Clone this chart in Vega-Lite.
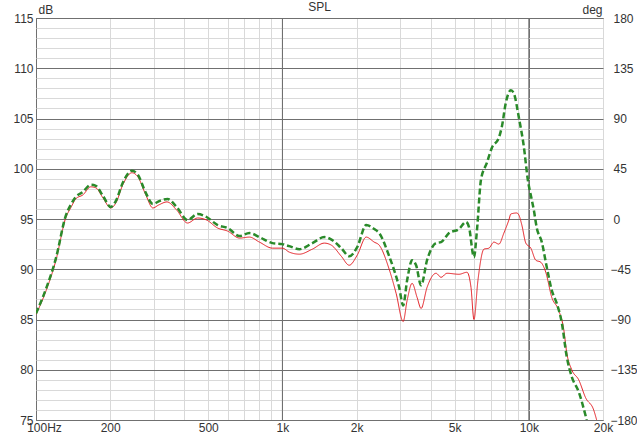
{
  "$schema": "https://vega.github.io/schema/vega-lite/v6.json",
  "width": 567,
  "height": 402,
  "autosize": "none",
  "padding": {"left": 36, "top": 18, "right": 34, "bottom": 15},
  "background": "white",
  "config": {
    "view": {"stroke": "#707070", "strokeWidth": 1},
    "font": "Liberation Sans"
  },
  "title": {"text": "SPL", "fontSize": 12, "fontWeight": "normal", "color": "#333", "anchor": "middle", "offset": -11},
  "datasets": {
    "curves": [
      {"s": "red", "f": 100, "db": 85.5}, {"s": "red", "f": 110, "db": 87.9}, {"s": "red", "f": 120.5, "db": 90.9}, {"s": "red", "f": 132, "db": 95.1}, {"s": "red", "f": 139, "db": 96.2}, {"s": "red", "f": 145, "db": 97.0}, {"s": "red", "f": 155, "db": 97.4}, {"s": "red", "f": 167, "db": 98.2}, {"s": "red", "f": 175, "db": 98.1}, {"s": "red", "f": 187, "db": 97.1}, {"s": "red", "f": 201, "db": 96.1}, {"s": "red", "f": 211, "db": 96.6}, {"s": "red", "f": 225, "db": 98.4}, {"s": "red", "f": 245, "db": 99.6}, {"s": "red", "f": 259, "db": 99.2}, {"s": "red", "f": 279, "db": 97.4}, {"s": "red", "f": 298, "db": 96.1}, {"s": "red", "f": 315, "db": 96.4}, {"s": "red", "f": 340, "db": 96.7}, {"s": "red", "f": 372, "db": 95.9}, {"s": "red", "f": 412, "db": 94.6}, {"s": "red", "f": 453, "db": 95.1}, {"s": "red", "f": 492, "db": 94.9}, {"s": "red", "f": 546, "db": 94.1}, {"s": "red", "f": 599, "db": 93.8}, {"s": "red", "f": 670, "db": 93.1}, {"s": "red", "f": 735, "db": 93.2}, {"s": "red", "f": 807, "db": 92.7}, {"s": "red", "f": 911, "db": 92.1}, {"s": "red", "f": 1000, "db": 92.1}, {"s": "red", "f": 1067, "db": 91.7}, {"s": "red", "f": 1172, "db": 91.5}, {"s": "red", "f": 1323, "db": 92.0}, {"s": "red", "f": 1479, "db": 92.6}, {"s": "red", "f": 1579, "db": 92.4}, {"s": "red", "f": 1733, "db": 91.3}, {"s": "red", "f": 1867, "db": 90.4}, {"s": "red", "f": 2012, "db": 91.4}, {"s": "red", "f": 2188, "db": 93.2}, {"s": "red", "f": 2358, "db": 92.7}, {"s": "red", "f": 2470, "db": 92.4}, {"s": "red", "f": 2712, "db": 90.0}, {"s": "red", "f": 2894, "db": 87.6}, {"s": "red", "f": 3090, "db": 84.8}, {"s": "red", "f": 3207, "db": 86.9}, {"s": "red", "f": 3360, "db": 88.6}, {"s": "red", "f": 3520, "db": 87.2}, {"s": "red", "f": 3654, "db": 86.1}, {"s": "red", "f": 3864, "db": 88.2}, {"s": "red", "f": 4202, "db": 89.6}, {"s": "red", "f": 4403, "db": 89.2}, {"s": "red", "f": 4656, "db": 89.6}, {"s": "red", "f": 5208, "db": 89.5}, {"s": "red", "f": 5611, "db": 89.7}, {"s": "red", "f": 5825, "db": 88.2}, {"s": "red", "f": 5989, "db": 85.0}, {"s": "red", "f": 6216, "db": 88.9}, {"s": "red", "f": 6574, "db": 92.0}, {"s": "red", "f": 6888, "db": 92.1}, {"s": "red", "f": 7216, "db": 92.7}, {"s": "red", "f": 7560, "db": 92.5}, {"s": "red", "f": 7921, "db": 93.6}, {"s": "red", "f": 8299, "db": 94.9}, {"s": "red", "f": 8455, "db": 95.5}, {"s": "red", "f": 8942, "db": 95.6}, {"s": "red", "f": 9110, "db": 95.4}, {"s": "red", "f": 9368, "db": 94.4}, {"s": "red", "f": 9725, "db": 92.6}, {"s": "red", "f": 10188, "db": 92.1}, {"s": "red", "f": 10674, "db": 90.9}, {"s": "red", "f": 11183, "db": 90.7}, {"s": "red", "f": 11717, "db": 89.7}, {"s": "red", "f": 12393, "db": 87.2}, {"s": "red", "f": 13230, "db": 85.9}, {"s": "red", "f": 13860, "db": 84.0}, {"s": "red", "f": 14252, "db": 81.7}, {"s": "red", "f": 14934, "db": 80.0}, {"s": "red", "f": 15937, "db": 79.0}, {"s": "red", "f": 17013, "db": 77.2}, {"s": "red", "f": 18333, "db": 76.0}, {"s": "red", "f": 18851, "db": 75.0},
      {"s": "green", "f": 100, "db": 85.6}, {"s": "green", "f": 110, "db": 88.1}, {"s": "green", "f": 120.5, "db": 91.1}, {"s": "green", "f": 132, "db": 95.3}, {"s": "green", "f": 139, "db": 96.5}, {"s": "green", "f": 145, "db": 97.2}, {"s": "green", "f": 155, "db": 97.7}, {"s": "green", "f": 167, "db": 98.4}, {"s": "green", "f": 175, "db": 98.3}, {"s": "green", "f": 187, "db": 97.3}, {"s": "green", "f": 201, "db": 96.2}, {"s": "green", "f": 211, "db": 96.8}, {"s": "green", "f": 225, "db": 98.6}, {"s": "green", "f": 245, "db": 99.8}, {"s": "green", "f": 259, "db": 99.4}, {"s": "green", "f": 279, "db": 97.6}, {"s": "green", "f": 298, "db": 96.5}, {"s": "green", "f": 318, "db": 96.8}, {"s": "green", "f": 342, "db": 97.0}, {"s": "green", "f": 372, "db": 96.2}, {"s": "green", "f": 412, "db": 94.9}, {"s": "green", "f": 453, "db": 95.5}, {"s": "green", "f": 492, "db": 95.2}, {"s": "green", "f": 546, "db": 94.4}, {"s": "green", "f": 599, "db": 94.1}, {"s": "green", "f": 670, "db": 93.3}, {"s": "green", "f": 735, "db": 93.6}, {"s": "green", "f": 807, "db": 93.2}, {"s": "green", "f": 911, "db": 92.6}, {"s": "green", "f": 1000, "db": 92.5}, {"s": "green", "f": 1067, "db": 92.3}, {"s": "green", "f": 1172, "db": 92.0}, {"s": "green", "f": 1323, "db": 92.6}, {"s": "green", "f": 1479, "db": 93.2}, {"s": "green", "f": 1594, "db": 92.9}, {"s": "green", "f": 1733, "db": 92.1}, {"s": "green", "f": 1867, "db": 91.3}, {"s": "green", "f": 2012, "db": 92.2}, {"s": "green", "f": 2188, "db": 94.4}, {"s": "green", "f": 2358, "db": 94.0}, {"s": "green", "f": 2470, "db": 93.6}, {"s": "green", "f": 2712, "db": 91.3}, {"s": "green", "f": 2841, "db": 89.9}, {"s": "green", "f": 2977, "db": 88.2}, {"s": "green", "f": 3090, "db": 86.4}, {"s": "green", "f": 3207, "db": 88.9}, {"s": "green", "f": 3360, "db": 90.9}, {"s": "green", "f": 3488, "db": 90.4}, {"s": "green", "f": 3654, "db": 88.4}, {"s": "green", "f": 3864, "db": 90.9}, {"s": "green", "f": 4202, "db": 92.6}, {"s": "green", "f": 4403, "db": 92.7}, {"s": "green", "f": 4744, "db": 93.6}, {"s": "green", "f": 5208, "db": 94.0}, {"s": "green", "f": 5560, "db": 94.7}, {"s": "green", "f": 5717, "db": 94.2}, {"s": "green", "f": 5989, "db": 91.2}, {"s": "green", "f": 6160, "db": 93.9}, {"s": "green", "f": 6394, "db": 98.9}, {"s": "green", "f": 6761, "db": 100.6}, {"s": "green", "f": 7083, "db": 102.1}, {"s": "green", "f": 7560, "db": 103.1}, {"s": "green", "f": 7775, "db": 104.2}, {"s": "green", "f": 8070, "db": 106.6}, {"s": "green", "f": 8455, "db": 107.8}, {"s": "green", "f": 8695, "db": 107.5}, {"s": "green", "f": 9110, "db": 105.1}, {"s": "green", "f": 9545, "db": 102.2}, {"s": "green", "f": 9908, "db": 98.9}, {"s": "green", "f": 10283, "db": 96.9}, {"s": "green", "f": 10476, "db": 95.9}, {"s": "green", "f": 10774, "db": 94.1}, {"s": "green", "f": 11288, "db": 92.7}, {"s": "green", "f": 11827, "db": 90.2}, {"s": "green", "f": 12393, "db": 87.9}, {"s": "green", "f": 12985, "db": 86.6}, {"s": "green", "f": 13604, "db": 84.7}, {"s": "green", "f": 14252, "db": 81.3}, {"s": "green", "f": 14934, "db": 79.3}, {"s": "green", "f": 15937, "db": 77.8}, {"s": "green", "f": 17173, "db": 75.0}
    ],
    "decades": [{"f": 1000}, {"f": 10000}],
    "deg": [{"deg": -180}, {"deg": 180}]
  },
  "layer": [
    {
      "layer": [
        {
          "data": {"name": "decades"},
          "mark": {"type": "rule", "color": "#707070", "strokeWidth": 1},
          "encoding": {
            "x": {"field": "f", "type": "quantitative"}
          }
        },
        {
          "data": {"name": "curves"},
          "mark": {"type": "line", "interpolate": "monotone", "clip": true},
          "encoding": {
            "x": {
              "field": "f", "type": "quantitative",
              "scale": {"type": "log", "domain": [100, 20000], "nice": false},
              "axis": {
                "title": null,
                "values": [100, 200, 300, 400, 500, 600, 700, 800, 900, 1000, 2000, 3000, 4000, 5000, 6000, 7000, 8000, 9000, 10000, 20000],
                "labelExpr": "datum.value == 100 ? '100Hz' : datum.value == 200 ? '200' : datum.value == 500 ? '500' : datum.value == 1000 ? '1k' : datum.value == 2000 ? '2k' : datum.value == 5000 ? '5k' : datum.value == 10000 ? '10k' : datum.value == 20000 ? '20k' : ''",
                "labelOffset": {"condition": {"test": "datum.value == 100", "value": 8}, "value": 0},
                "labelOverlap": false, "labelFlush": false, "labelBound": false,
                "labelFontSize": 12, "labelColor": "#333", "labelPadding": 2,
                "ticks": false, "domain": false,
                "grid": true,
                "gridColor": {"condition": {"test": "datum.value == 100 || datum.value == 1000 || datum.value == 10000", "value": "#707070"}, "value": "#d9d9d9"},
                "gridWidth": 1
              }
            },
            "y": {
              "field": "db", "type": "quantitative",
              "scale": {"domain": [75, 115], "nice": false, "zero": false},
              "axis": {
                "title": "dB", "titleAngle": 0, "titleAlign": "left", "titleBaseline": "alphabetic",
                "titleX": 2, "titleY": -5, "titleFontSize": 12, "titleFontWeight": "normal", "titleColor": "#333",
                "values": [75, 76, 77, 78, 79, 80, 81, 82, 83, 84, 85, 86, 87, 88, 89, 90, 91, 92, 93, 94, 95, 96, 97, 98, 99, 100, 101, 102, 103, 104, 105, 106, 107, 108, 109, 110, 111, 112, 113, 114, 115],
                "labelExpr": "datum.value % 5 == 0 ? datum.label : ''",
                "labelOverlap": false, "labelFlush": false, "labelBound": false,
                "labelFontSize": 12, "labelColor": "#333", "labelPadding": 3,
                "ticks": false, "domain": false,
                "grid": true,
                "gridColor": {"condition": {"test": "datum.value % 5 == 0", "value": "#707070"}, "value": "#d9d9d9"},
                "gridWidth": 1
              }
            },
            "color": {"field": "s", "type": "nominal", "scale": {"domain": ["red", "green"], "range": ["#e31e24", "#2a8a2a"]}, "legend": null},
            "strokeWidth": {"field": "s", "type": "nominal", "scale": {"domain": ["red", "green"], "range": [1, 2.5]}, "legend": null},
            "strokeDash": {"field": "s", "type": "nominal", "scale": {"domain": ["red", "green"], "range": [[1, 0], [6, 3]]}, "legend": null}
          }
        }
      ]
    },
    {
      "data": {"name": "deg"},
      "mark": {"type": "point", "opacity": 0},
      "encoding": {
        "y": {
          "field": "deg", "type": "quantitative",
          "scale": {"domain": [-180, 180], "nice": false, "zero": false},
          "axis": {
            "orient": "right",
            "title": "deg", "titleAngle": 0, "titleAlign": "right", "titleBaseline": "alphabetic",
            "titleX": -1, "titleY": -5, "titleFontSize": 12, "titleFontWeight": "normal", "titleColor": "#333",
            "values": [-180, -135, -90, -45, 0, 45, 90, 135, 180],
            "labelOverlap": false, "labelFlush": false, "labelBound": false,
            "labelFontSize": 12, "labelColor": "#333",
            "labelPadding": {"condition": {"test": "datum.value < 0", "value": 7}, "value": 10},
            "ticks": false, "domain": false, "grid": false
          }
        }
      }
    }
  ],
  "resolve": {"scale": {"y": "independent"}}
}
